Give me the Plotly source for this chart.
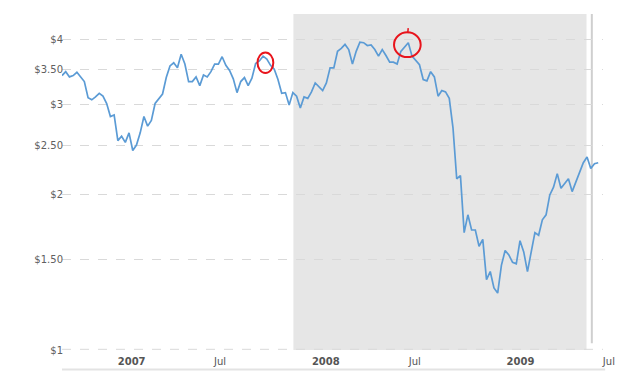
import pandas as pd
import plotly.graph_objects as go

# Weekly price readings (USD)
price = [
    3.41, 3.47, 3.39, 3.41, 3.46, 3.39, 3.32, 3.09, 3.06, 3.10,
    3.15, 3.11, 3.01, 2.84, 2.86, 2.55, 2.60, 2.53, 2.64, 2.44,
    2.50, 2.64, 2.84, 2.72, 2.79, 3.01, 3.08, 3.14, 3.38, 3.56,
    3.61, 3.53, 3.75, 3.59, 3.32, 3.32, 3.39, 3.26, 3.42, 3.39,
    3.47, 3.59, 3.59, 3.71, 3.57, 3.49, 3.36, 3.16, 3.32, 3.38,
    3.26, 3.37, 3.60, 3.64, 3.72, 3.67, 3.57, 3.51, 3.35, 3.15,
    3.16, 2.99, 3.16, 3.11, 2.95, 3.10, 3.08, 3.17, 3.30, 3.25,
    3.19, 3.30, 3.53, 3.53, 3.80, 3.85, 3.92, 3.83, 3.59, 3.80,
    3.96, 3.95, 3.90, 3.91, 3.83, 3.72, 3.83, 3.73, 3.62, 3.62,
    3.59, 3.80, 3.87, 3.95, 3.72, 3.64, 3.58, 3.35, 3.33, 3.47,
    3.39, 3.11, 3.19, 3.17, 3.08, 2.70, 2.15, 2.18, 1.69, 1.83,
    1.71, 1.71, 1.59, 1.64, 1.37, 1.42, 1.32, 1.29, 1.46, 1.56,
    1.53, 1.48, 1.47, 1.63, 1.55, 1.42, 1.55, 1.69, 1.67, 1.79,
    1.83, 2.00, 2.07, 2.20, 2.06, 2.10, 2.15, 2.03, 2.12, 2.22,
    2.31, 2.37, 2.25, 2.30, 2.31,
]
start_date = "2006-09-22"
dates = pd.date_range(start_date, periods=len(price), freq="7D")

x_range = ["2006-09-22", "2009-07-05"]
y_tickvals = [1, 1.5, 2, 2.5, 3, 3.5, 4]
y_ticktext = ["$1", "$1.50", "$2", "$2.50", "$3", "$3.50", "$4"]
x_tickvals = ["2007-01-01", "2007-07-01", "2008-01-01", "2008-07-01", "2009-01-01", "2009-07-01"]
x_ticktext = ["<b>2007</b>", "Jul", "<b>2008</b>", "Jul", "<b>2009</b>", "Jul"]
recession = ["2007-12-01", "2009-06-04"]
marker_date = "2009-06-14"

fig = go.Figure()
fig.add_trace(go.Scatter(
    x=dates, y=price, mode="lines",
    line=dict(color="#5b9bd5", width=1.7),
    hoverinfo="skip", showlegend=False,
))

fig.add_shape(type="rect", xref="x", yref="paper",
              x0=recession[0], x1=recession[1], y0=0, y1=1,
              fillcolor="#e6e6e6", line=dict(width=0), layer="below")
# dashed grid line at the bottom ($1)
fig.add_shape(type="line", xref="paper", yref="paper",
              x0=0, x1=1, y0=0.002, y1=0.002,
              line=dict(color="#d9d9d9", width=1, dash="dash"), layer="between")
fig.add_shape(type="line", xref="x", yref="paper",
              x0=marker_date, x1=marker_date, y0=0.02, y1=1,
              line=dict(color="#cfcfcf", width=2), layer="between")
# bottom rule under the axis labels
fig.add_shape(type="line", xref="paper", yref="paper",
              x0=0, x1=1.004, y0=-0.058, y1=-0.058,
              line=dict(color="#e3e3e3", width=2))
# hand-drawn red circles
fig.add_shape(type="circle", xref="paper", yref="paper",
              x0=0.3614, x1=0.3906, y0=0.8244, y1=0.8854,
              line=dict(color="#e8141c", width=2))
fig.add_shape(type="circle", xref="paper", yref="paper",
              x0=0.6137, x1=0.6630, y0=0.8720, y1=0.9455,
              line=dict(color="#e8141c", width=2))
fig.add_shape(type="line", xref="paper", yref="paper",
              x0=0.639, x1=0.640, y0=0.943, y1=0.958,
              line=dict(color="#e8141c", width=1.5))

fig.update_layout(
    width=640, height=383,
    margin=dict(l=54, r=45, t=6, b=41),
    plot_bgcolor="white", paper_bgcolor="white",
    font=dict(family="DejaVu Sans", size=10, color="#606060"),
    xaxis=dict(
        type="date", range=x_range,
        tickvals=x_tickvals, ticktext=x_ticktext,
        showgrid=False, zeroline=False, showline=False, ticks="",
        ticklabelposition="outside right", ticklabelshift=2, ticklabelstandoff=4,
        tickfont=dict(family="DejaVu Sans", size=10, color="#555555"),
    ),
    yaxis=dict(
        type="log", range=[0, 0.6523],
        tickvals=y_tickvals, ticktext=y_ticktext,
        showgrid=True, gridcolor="#d9d9d9", griddash="dash", gridwidth=1,
        zeroline=False, showline=False, ticks="", ticklabelstandoff=-2,
        tickfont=dict(family="DejaVu Sans", size=10, color="#606060"),
    ),
)

fig.write_html("out.html")
